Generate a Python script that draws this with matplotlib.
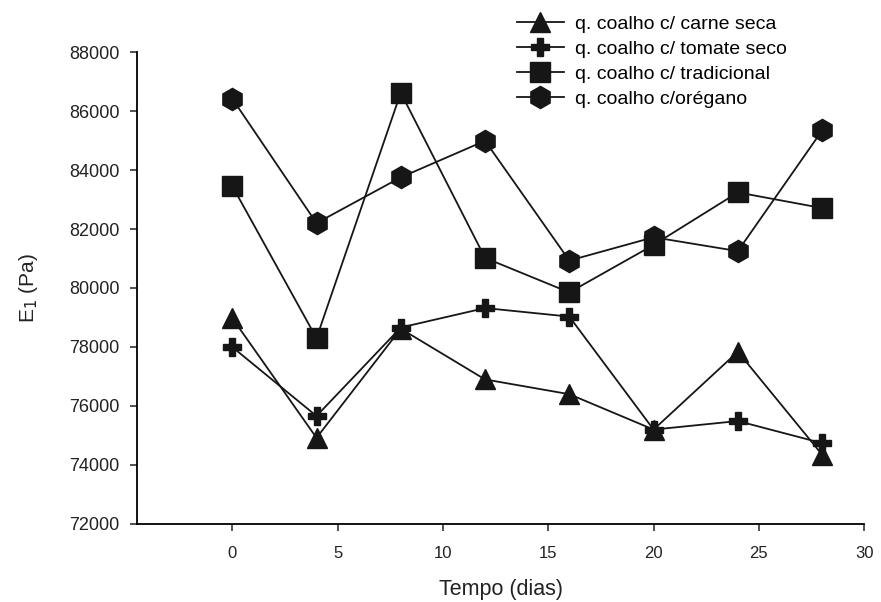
import matplotlib.pyplot as plt

plt.rcParams['font.family'] = ['Liberation Sans', 'DejaVu Sans']

dias = [0, 4, 8, 12, 16, 20, 24, 28]
carne_seca = [78980, 74920, 78620, 76900, 76400, 75200, 77840, 74350]
tomate_seco = [78000, 75660, 78660, 79320, 79030, 75200, 75490, 74740]
tradicional = [83460, 78300, 86620, 81020, 79850, 81460, 83240, 82710]
oregano = [86420, 82200, 83750, 84990, 80930, 81720, 81250, 85340]

labels = ['q. coalho c/ carne seca', 'q. coalho c/ tomate seco',
          'q. coalho c/ tradicional', 'q. coalho c/orégano']

fig = plt.figure(figsize=(8.81, 6.02), dpi=100)
ax = fig.add_axes([0.156, 0.1296, 0.825, 0.784])

col = '#161616'
series = [(carne_seca, '^', 15), (tomate_seco, 'P', 13),
          (tradicional, 's', 14), (oregano, 'h', 16)]
for (vals, mk, ms), lab in zip(series, labels):
    ax.plot(dias, vals, color=col, lw=1.3, marker=mk, markersize=ms,
            markerfacecolor=col, markeredgecolor=col, label=lab)

ax.set_xlim(-4.5, 30)
ax.set_ylim(72000, 88000)
ax.set_xticks([0, 5, 10, 15, 20, 25, 30])
ax.set_yticks(range(72000, 88001, 2000))
ax.spines['top'].set_visible(False)
ax.spines['right'].set_visible(False)
ax.spines['left'].set_linewidth(1.3)
ax.spines['bottom'].set_linewidth(1.3)
ax.tick_params(direction='out', length=5, width=1.1, colors='#222222')
ax.tick_params(axis='x', labelsize=12, pad=11)
ax.tick_params(axis='y', labelsize=13, pad=8)

ax.set_xlabel('Tempo (dias)', fontsize=15.5, color='#222222', labelpad=13)
ax.set_ylabel('E$_1$ (Pa)', fontsize=15, color='#222222', labelpad=21)

fig.legend(loc='upper left', bbox_to_anchor=(0.567, 1.004), frameon=False,
           fontsize=14, handlelength=2.4, labelspacing=0.38, handletextpad=0.6,
           borderpad=0.4)

fig.savefig('out.png', dpi=100)
